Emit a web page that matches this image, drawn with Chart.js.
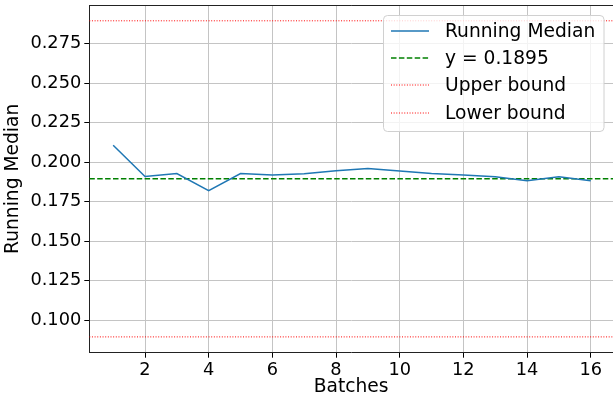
<!DOCTYPE html>
<html lang="en">
<head>
    <meta charset="UTF-8">
    <title>Running Median</title>
    <script src="https://cdn.jsdelivr.net/npm/chart.js"></script>
    <style>
        html, body {
            margin: 0;
            padding: 0;
            background: #fff;
        }
        .chart-container {
            width: 613px;
            height: 396px;
        }
    </style>
</head>
<body>
    <div class="chart-container">
        <canvas id="median-chart"></canvas>
    </div>

    <script>
        // Data
        const batches = [1, 2, 3, 4, 5, 6, 7, 8, 9, 10, 11, 12, 13, 14, 15, 16];
        const runningMedian = [0.2108, 0.1910, 0.1929, 0.1821, 0.1929, 0.1919, 0.1927, 0.1946,
                               0.1960, 0.1944, 0.1929, 0.1919, 0.1908, 0.1883, 0.1908, 0.1883];
        const refValue = 0.1895;
        const upperBound = 0.2895;
        const lowerBound = 0.0895;

        const xTicks = [2, 4, 6, 8, 10, 12, 14, 16];
        const yTicks = [0.100, 0.125, 0.150, 0.175, 0.200, 0.225, 0.250, 0.275];
        const xRange = [0.25, 16.7];
        const yRange = [0.0795, 0.2995];

        const FONT = 'DejaVu Sans';

        function hline(value) {
            return [{ x: xRange[0], y: value }, { x: xRange[1], y: value }];
        }

        // matplotlib-like legend box + top spine
        const mplDecor = {
            id: 'mplDecor',
            afterDraw(chart) {
                const ctx = chart.ctx;
                const area = chart.chartArea;

                // top spine
                ctx.save();
                ctx.strokeStyle = '#222';
                ctx.lineWidth = 1;
                ctx.beginPath();
                ctx.moveTo(area.left, Math.round(area.top) + 0.5);
                ctx.lineTo(area.right, Math.round(area.top) + 0.5);
                ctx.stroke();

                // legend frame
                const bx = 383.5, by = 15.5, bw = 220.5, bh = 116, r = 4;
                ctx.beginPath();
                ctx.roundRect(bx, by, bw, bh, r);
                ctx.fillStyle = 'rgba(255,255,255,0.8)';
                ctx.fill();
                ctx.strokeStyle = '#d0d0d0';
                ctx.lineWidth = 1;
                ctx.stroke();

                ctx.font = '18.67px "' + FONT + '"';
                ctx.textBaseline = 'middle';
                ctx.textAlign = 'left';
                chart.data.datasets.forEach((ds, i) => {
                    const y = 30.7 + i * 27.35;
                    const ly = Math.round(y);
                    ctx.beginPath();
                    ctx.setLineDash(ds.borderDash || []);
                    ctx.strokeStyle = ds.borderColor;
                    ctx.lineWidth = ds.borderWidth;
                    ctx.moveTo(391, ly);
                    ctx.lineTo(429, ly);
                    ctx.stroke();
                    ctx.setLineDash([]);
                    ctx.fillStyle = '#000';
                    ctx.fillText(ds.label, 445, y + 1);
                });
                ctx.restore();
            }
        };

        const ctx = document.getElementById('median-chart').getContext('2d');
        new Chart(ctx, {
            type: 'line',
            data: {
                datasets: [
                    {
                        label: 'Running Median',
                        data: batches.map((b, i) => ({ x: b, y: runningMedian[i] })),
                        borderColor: '#1f77b4',
                        borderWidth: 1.5,
                        pointRadius: 0,
                        tension: 0,
                        fill: false
                    },
                    {
                        label: 'y = ' + refValue,
                        data: hline(refValue),
                        borderColor: '#008000',
                        borderWidth: 1.5,
                        borderDash: [5.5, 2.4],
                        pointRadius: 0
                    },
                    {
                        label: 'Upper bound',
                        data: hline(upperBound),
                        borderColor: '#ff0000',
                        borderWidth: 1,
                        borderDash: [1, 1.65],
                        pointRadius: 0
                    },
                    {
                        label: 'Lower bound',
                        data: hline(lowerBound),
                        borderColor: '#ff0000',
                        borderWidth: 1,
                        borderDash: [1, 1.65],
                        pointRadius: 0
                    }
                ]
            },
            options: {
                responsive: true,
                maintainAspectRatio: false,
                animation: false,
                layout: {
                    padding: { top: 5, right: 0, left: 0, bottom: 0 }
                },
                plugins: {
                    legend: { display: false },
                    tooltip: { enabled: false }
                },
                scales: {
                    x: {
                        type: 'linear',
                        min: xRange[0],
                        max: xRange[1],
                        afterBuildTicks: scale => {
                            scale.ticks = xTicks.map(v => ({ value: v }));
                        },
                        afterFit: scale => {
                            scale.height = 43.3;
                            scale.paddingLeft = 0;
                            scale.paddingRight = 0;
                        },
                        grid: {
                            color: '#c4c4c4',
                            lineWidth: 1,
                            tickColor: '#000',
                            tickLength: 5
                        },
                        border: { color: '#222', width: 1 },
                        ticks: {
                            color: '#000',
                            padding: 2,
                            maxRotation: 0,
                            font: { family: FONT, size: 17.8 },
                            callback: v => String(v)
                        },
                        title: {
                            display: true,
                            text: 'Batches',
                            color: '#000',
                            padding: { top: 0, bottom: 0 },
                            font: { family: FONT, size: 18.67, lineHeight: 1.0 }
                        }
                    },
                    y: {
                        min: yRange[0],
                        max: yRange[1],
                        afterBuildTicks: scale => {
                            scale.ticks = yTicks.map(v => ({ value: v }));
                        },
                        afterFit: scale => {
                            scale.width = 89.3;
                            scale.paddingTop = 0;
                            scale.paddingBottom = 0;
                        },
                        grid: {
                            color: '#c4c4c4',
                            lineWidth: 1,
                            tickColor: '#000',
                            tickLength: 5
                        },
                        border: { color: '#222', width: 1 },
                        ticks: {
                            color: '#000',
                            padding: 3,
                            font: { family: FONT, size: 17.8 },
                            callback: v => Number(v).toFixed(3)
                        },
                        title: {
                            display: true,
                            text: 'Running Median',
                            color: '#000',
                            padding: { top: 2, bottom: 4 },
                            font: { family: FONT, size: 18.67 }
                        }
                    }
                }
            },
            plugins: [mplDecor]
        });
    </script>
</body>
</html>
